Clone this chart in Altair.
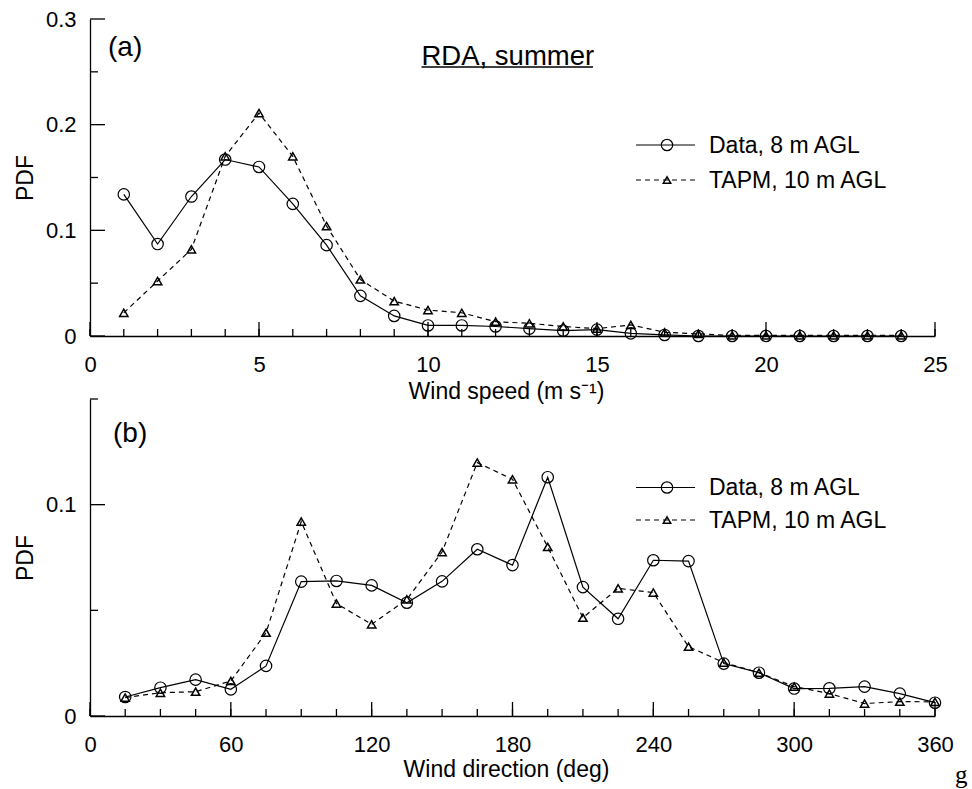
import altair as alt
import pandas as pd

# ---------------- data ----------------
speed = list(range(1, 25))
data_speed = [0.134, 0.087, 0.132, 0.167, 0.160, 0.125, 0.086, 0.038, 0.019, 0.010, 0.010, 0.009,
              0.007, 0.005, 0.006, 0.0025, 0.001, 0.0, 0.0, 0.0, 0.0, 0.0, 0.0, 0.0]
tapm_speed = [0.022, 0.052, 0.082, 0.170, 0.211, 0.170, 0.104, 0.0535, 0.033, 0.0245, 0.022, 0.0135,
              0.012, 0.009, 0.007, 0.0105, 0.0035, 0.002, 0.0005, 0.0005, 0.0005, 0.0005, 0.0005, 0.0005]

direction = list(range(15, 361, 15))
data_dir = [0.009, 0.0134, 0.0172, 0.0126, 0.0237, 0.0636, 0.0639, 0.0618, 0.0536, 0.0637, 0.0789, 0.0714,
            0.113, 0.061, 0.046, 0.0737, 0.0733, 0.0248, 0.0205, 0.013, 0.0131, 0.0139, 0.0106, 0.0063]
tapm_dir = [0.0087, 0.011, 0.0115, 0.0166, 0.0394, 0.092, 0.0532, 0.0434, 0.0552, 0.0776, 0.1199, 0.112,
            0.080, 0.0465, 0.0604, 0.0584, 0.0328, 0.0253, 0.0205, 0.0139, 0.0106, 0.0059, 0.0068, 0.0067]

series_labels = ["Data, 8 m AGL", "TAPM, 10 m AGL"]

speed_major = [0, 5, 10, 15, 20, 25]
speed_minor = list(range(0, 26))
dir_major = [0, 60, 120, 180, 240, 300, 360]
dir_minor = list(range(0, 361, 15))
pdf_top_major = [0, 0.1, 0.2, 0.3]
pdf_top_minor = [0.05, 0.15, 0.25]
pdf_bot_major = [0, 0.1]
pdf_bot_minor = [0.05, 0.15]

FONT = "Liberation Sans"
W, H = 845, 317


def make_panel(xs, d1, d2, xdom, ydom, xmaj, xmin, ymaj, ymin, xtitle, title_y, panel_label,
               label_x, label_y, leg_y1, leg_y2, extra=None):
    xscale = alt.Scale(domain=xdom, nice=False, zero=False)
    yscale = alt.Scale(domain=ydom, nice=False, zero=False)
    xaxis = alt.Axis(values=xmaj, title=xtitle, grid=False, ticks=False, tickSize=0,
                     domainColor="black", domainWidth=1.3, labelFont=FONT, labelFontSize=22,
                     labelColor="black", labelPadding=18, titleFont=FONT, titleFontSize=23,
                     titleFontWeight="normal", titleColor="black", titleX=416, titleY=title_y,
                     titleBaseline="alphabetic", titleAlign="center", labelFlush=False)
    yaxis = alt.Axis(values=ymaj, format=".1~f", title="PDF", grid=False, ticks=False, tickSize=0,
                     domainColor="black", domainWidth=1.3, labelFont=FONT, labelFontSize=22,
                     labelColor="black", labelPadding=14, titleFont=FONT, titleFontSize=23,
                     titleFontWeight="normal", titleColor="black", titleX=-58, titleY=H / 2,
                     titleBaseline="alphabetic", titleAlign="center", titleAngle=270,
                     labelFlush=False)

    def X():
        return alt.X("x:Q", scale=xscale, axis=xaxis)

    def Y():
        return alt.Y("y:Q", scale=yscale, axis=yaxis)

    df1 = pd.DataFrame({"x": xs, "y": d1})
    df2 = pd.DataFrame({"x": xs, "y": d2})

    line1 = alt.Chart(df1).mark_line(color="black", strokeWidth=1.2).encode(x=X(), y=Y())
    pts1 = alt.Chart(df1).mark_point(shape="circle", filled=False, size=130, color="black",
                                     strokeWidth=1.2, opacity=1).encode(x=X(), y=Y())
    line2 = alt.Chart(df2).mark_line(color="black", strokeWidth=1.2, strokeDash=[5, 4]).encode(x=X(), y=Y())
    pts2 = alt.Chart(df2).mark_point(shape="triangle-up", filled=False, size=70, color="black",
                                     strokeWidth=1.5, opacity=1).encode(x=X(), y=Y())

    xt_maj = alt.Chart(pd.DataFrame({"x": xmaj})).mark_rule(color="black", strokeWidth=1.3).encode(
        x=X(), y=alt.value(H), y2=alt.value(H - 14))
    xt_min = alt.Chart(pd.DataFrame({"x": xmin})).mark_rule(color="black", strokeWidth=1.3).encode(
        x=X(), y=alt.value(H), y2=alt.value(H - 7))
    yt_maj = alt.Chart(pd.DataFrame({"y": ymaj})).mark_rule(color="black", strokeWidth=1.3).encode(
        y=Y(), x=alt.value(0), x2=alt.value(15))
    yt_min = alt.Chart(pd.DataFrame({"y": ymin})).mark_rule(color="black", strokeWidth=1.3).encode(
        y=Y(), x=alt.value(0), x2=alt.value(8))

    lab = alt.Chart().mark_text(text=panel_label, font=FONT, fontSize=28, align="left",
                                baseline="alphabetic", color="black").encode(
        x=alt.value(label_x), y=alt.value(label_y))

    # legend
    leg = []
    leg.append(alt.Chart().mark_rule(color="black", strokeWidth=1.2).encode(
        x=alt.value(546), x2=alt.value(605), y=alt.value(leg_y1)))
    leg.append(alt.Chart().mark_point(shape="circle", filled=False, size=130, color="black",
                                      strokeWidth=1.2, opacity=1).encode(
        x=alt.value(577), y=alt.value(leg_y1)))
    leg.append(alt.Chart().mark_rule(color="black", strokeWidth=1.2, strokeDash=[5, 4]).encode(
        x=alt.value(546), x2=alt.value(605), y=alt.value(leg_y2)))
    leg.append(alt.Chart().mark_point(shape="triangle-up", filled=False, size=55, color="black",
                                      strokeWidth=1.5, opacity=1).encode(
        x=alt.value(577), y=alt.value(leg_y2)))
    leg.append(alt.Chart().mark_text(text=series_labels[0], font=FONT, fontSize=23, align="left",
                                     baseline="alphabetic", color="black").encode(
        x=alt.value(619), y=alt.value(leg_y1 + 7.5)))
    leg.append(alt.Chart().mark_text(text=series_labels[1], font=FONT, fontSize=23, align="left",
                                     baseline="alphabetic", color="black").encode(
        x=alt.value(619), y=alt.value(leg_y2 + 7.5)))

    layers = [xt_maj, xt_min, yt_maj, yt_min, line1, line2, pts1, pts2, lab] + leg
    if extra:
        layers += extra
    return alt.layer(*layers).properties(width=W, height=H)


# top panel extras: title with underline and an invisible bounds rule
top_extra = [
    alt.Chart().mark_text(text="RDA, summer", font=FONT, fontSize=27.5, align="left",
                          baseline="alphabetic", color="black").encode(
        x=alt.value(331.5), y=alt.value(46)),
    alt.Chart().mark_rule(color="black", strokeWidth=1.5).encode(
        x=alt.value(331.5), x2=alt.value(503), y=alt.value(48)),
    alt.Chart().mark_rule(strokeWidth=0, opacity=0).encode(
        x=alt.value(-90), x2=alt.value(882), y=alt.value(-19)),
]
bot_extra = [
    alt.Chart().mark_text(text="g", font="Liberation Serif", fontSize=25, align="left",
                          baseline="alphabetic", color="black").encode(
        x=alt.value(865), y=alt.value(384)),
    alt.Chart().mark_rule(strokeWidth=0, opacity=0).encode(
        x=alt.value(-90), x2=alt.value(882), y=alt.value(H + 72)),
]

top = make_panel(speed, data_speed, tapm_speed, [0, 25], [0, 0.3], speed_major, speed_minor,
                 pdf_top_major, pdf_top_minor, "Wind speed (m s\u207b\u00b9)", 62, "(a)",
                 18, 37, 126, 161, top_extra)
bottom = make_panel(direction, data_dir, tapm_dir, [0, 360], [0, 0.15], dir_major, dir_minor,
                    pdf_bot_major, pdf_bot_minor, "Wind direction (deg)", 60, "(b)",
                    23, 43, 88.5, 121, bot_extra)

chart = alt.vconcat(top, bottom, spacing=63, bounds="flush").properties(
    padding=0
).configure_view(stroke=None)

chart.save("out.html", embed_options={"renderer": "svg", "actions": False})
